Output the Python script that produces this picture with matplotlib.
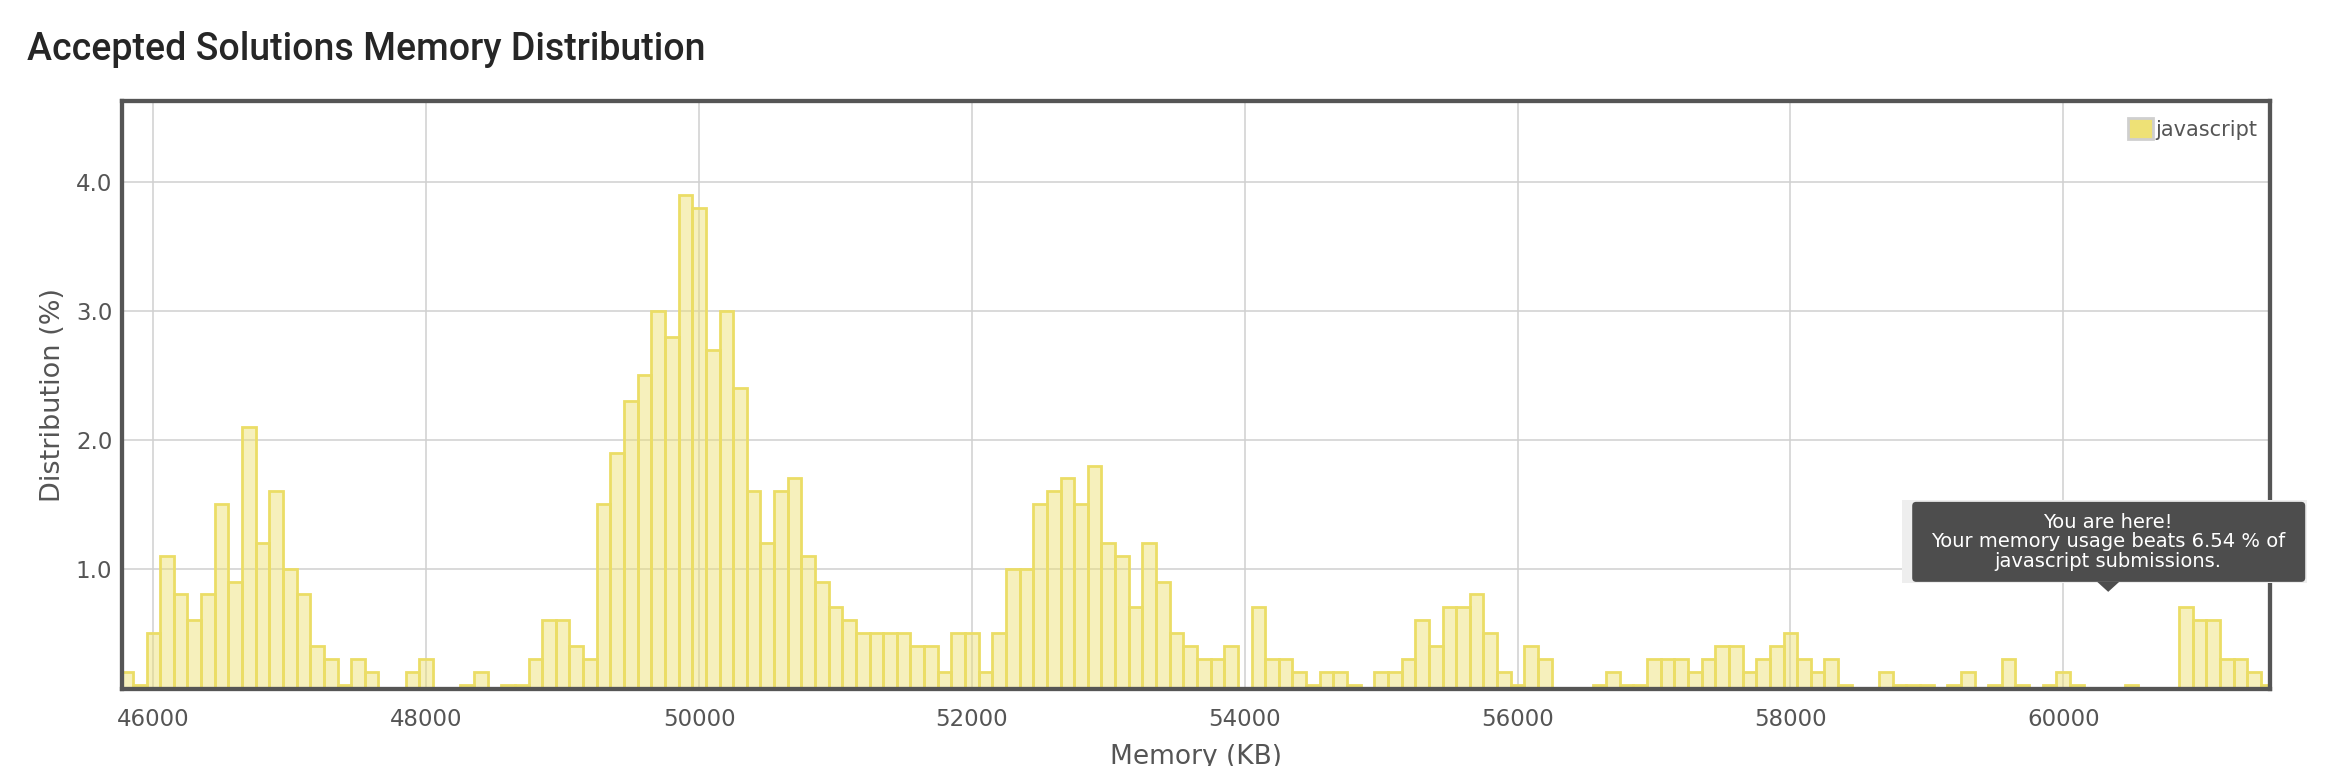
import matplotlib
matplotlib.use('Agg')
import matplotlib.pyplot as plt
from matplotlib.patches import Patch, Rectangle, FancyBboxPatch, Polygon
from matplotlib.transforms import IdentityTransform
from matplotlib.ticker import FormatStrFormatter

# Data: memory bins (KB, 100 KB wide) and share of accepted solutions (%)
memory_kb = list(range(45800, 61600, 100))
distribution = [
    0.2, 0.1, 0.5, 1.1, 0.8, 0.6, 0.8, 1.5, 0.9, 2.1,
    1.2, 1.6, 1.0, 0.8, 0.4, 0.3, 0.1, 0.3, 0.2, 0,
    0, 0.2, 0.3, 0, 0, 0.1, 0.2, 0, 0.1, 0.1,
    0.3, 0.6, 0.6, 0.4, 0.3, 1.5, 1.9, 2.3, 2.5, 3.0,
    2.8, 3.9, 3.8, 2.7, 3.0, 2.4, 1.6, 1.2, 1.6, 1.7,
    1.1, 0.9, 0.7, 0.6, 0.5, 0.5, 0.5, 0.5, 0.4, 0.4,
    0.2, 0.5, 0.5, 0.2, 0.5, 1.0, 1.0, 1.5, 1.6, 1.7,
    1.5, 1.8, 1.2, 1.1, 0.7, 1.2, 0.9, 0.5, 0.4, 0.3,
    0.3, 0.4, 0, 0.7, 0.3, 0.3, 0.2, 0.1, 0.2, 0.2,
    0.1, 0, 0.2, 0.2, 0.3, 0.6, 0.4, 0.7, 0.7, 0.8,
    0.5, 0.2, 0.1, 0.4, 0.3, 0, 0, 0, 0.1, 0.2,
    0.1, 0.1, 0.3, 0.3, 0.3, 0.2, 0.3, 0.4, 0.4, 0.2,
    0.3, 0.4, 0.5, 0.3, 0.2, 0.3, 0.1, 0, 0, 0.2,
    0.1, 0.1, 0.1, 0, 0.1, 0.2, 0, 0.1, 0.3, 0.1,
    0, 0.1, 0.2, 0.1, 0, 0, 0, 0.1, 0, 0,
    0, 0.7, 0.6, 0.6, 0.3, 0.3, 0.2, 0.1,
]
x_ticks = [46000, 48000, 50000, 52000, 54000, 56000, 58000, 60000]
y_ticks = [1.0, 2.0, 3.0, 4.0]
language = 'javascript'
user_memory_kb = 60330
user_marker_y = 0.82
beats_pct = 6.54

# Figure
fig = plt.figure(figsize=(23.34, 7.66), dpi=100)
fig.subplots_adjust(left=122 / 2334, right=2270 / 2334, bottom=1 - 689 / 766, top=1 - 101 / 766)
ax = fig.add_subplot(111)

ax.bar(memory_kb, distribution, width=100, align='center',
       facecolor=(0.925, 0.875, 0.42, 0.45), edgecolor='#ebdd66', linewidth=2.0)

ax.set_xlim(45770, 61516)
ax.set_ylim(0.066, 4.63)
ax.set_xticks(x_ticks)
ax.set_yticks(y_ticks)
ax.yaxis.set_major_formatter(FormatStrFormatter('%.1f'))
ax.tick_params(axis='both', length=0, labelsize=16.5, labelcolor='#555555')
ax.tick_params(axis='x', pad=14)
ax.tick_params(axis='y', pad=7)
ax.grid(True, color='#d0d0d0', linewidth=1.1)
ax.set_axisbelow(True)
for s in ax.spines.values():
    s.set_color('#555555')
    s.set_linewidth(3.1)

ax.set_xlabel('Memory (KB)', fontsize=19, color='#555555', va='top')
ax.xaxis.set_label_coords(0.5, (689 - 744) / 588)
ax.set_ylabel('Distribution (%)', fontsize=19.5, color='#555555', va='center')
ax.yaxis.set_label_coords((53 - 122) / 2148, 0.5)

# Legend
handle = Patch(facecolor='#eee176', edgecolor='#cfcfcf', linewidth=2)
ax.legend([handle], [language], loc='upper right', frameon=False, fontsize=15,
          labelcolor='#555555', handlelength=1.2, handleheight=1.2, handletextpad=0.1,
          borderpad=0, borderaxespad=0, bbox_to_anchor=(1 - 13 / 2148, 1 - 17 / 588))

# Title
fig.text(27 / 2334, 1 - 60 / 766, 'Accepted Solutions Memory Distribution',
         ha='left', va='baseline', fontsize=27, family='Roboto', weight='medium', color='#262626')

# Tooltip pointing at the user's submission
tx, ty = ax.transData.transform((user_memory_kb, user_marker_y))
pix = IdentityTransform()
fig.add_artist(Rectangle((tx - 206, ty + 8.7), 405, 83, transform=pix,
                         facecolor='#eeeeee', edgecolor='none'))
fig.add_artist(FancyBboxPatch((tx - 196, ty + 10), 393, 80, boxstyle='round,pad=0,rounding_size=4',
                              transform=pix, facecolor=(0.23, 0.23, 0.23, 0.9), edgecolor='none'))
fig.add_artist(Polygon([(tx - 11, ty + 10), (tx + 11, ty + 10), (tx, ty)], closed=True,
                       transform=pix, facecolor=(0.23, 0.23, 0.23, 0.9), edgecolor='none'))
fig.text(tx, ty + 50,
         f'You are here!\nYour memory usage beats {beats_pct} % of\n{language} submissions.',
         transform=pix, ha='center', va='center', multialignment='center',
         color='white', fontsize=14, linespacing=1.05)

fig.savefig('out.png', dpi=100)
